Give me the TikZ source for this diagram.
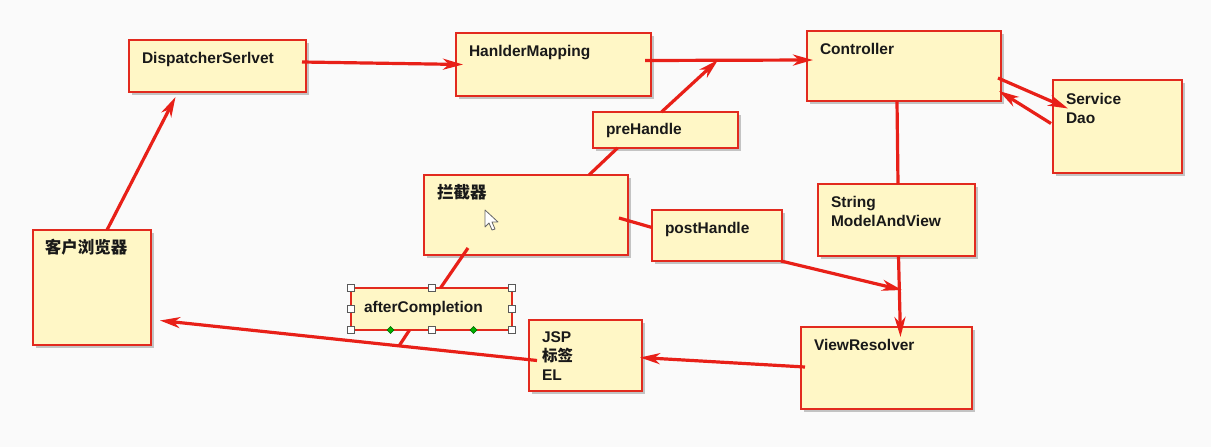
\documentclass[tikz,border=0pt]{standalone}
\usepackage{fontspec}
\setmainfont{Liberation Sans}
\newfontfamily\cjk{Noto Sans CJK SC}
\usetikzlibrary{arrows.meta,shadows,calc}
\definecolor{bg}{RGB}{250,250,250}
\definecolor{boxfill}{RGB}{255,247,198}
\definecolor{linered}{RGB}{232,32,24}
\definecolor{boxred}{RGB}{226,42,30}
\definecolor{txt}{RGB}{25,25,25}
\begin{document}
\begin{tikzpicture}[x=1pt,y=-1pt,
 plainbox/.style={draw=boxred, line width=2.4pt, fill=boxfill, rectangle, inner sep=0pt, outer sep=0pt, anchor=north west},
 box/.style={plainbox, drop shadow={shadow xshift=2.5pt, shadow yshift=-2.5pt, opacity=0.22, fill=black}},
 lbl/.style={anchor=north west, inner sep=0pt, outer sep=0pt, xshift=13pt, yshift=-12pt, align=left, font=\bfseries\fontsize{15.5}{19}\selectfont, text=txt},
 cjklbl/.style={lbl, yshift=3pt, font=\bfseries\cjk\fontsize{16.5}{19}\selectfont},
 conn/.style={draw=linered, line width=3.2pt},
 arr/.style={conn, -{Stealth[length=20pt,width=11pt,inset=6pt]}},
 handle/.style={draw=gray!70!black, fill=white, line width=0.8pt},
]
\fill[bg] (0,0) rectangle (1211,447);
\useasboundingbox (0,0) rectangle (1211,447);

% boxes
\node[box, minimum width=177pt, minimum height=52pt, label={[lbl]north west:DispatcherSerlvet}] (ds) at (129,40) {};
\node[box, minimum width=195pt, minimum height=63pt, label={[lbl]north west:HanlderMapping}] (hm) at (456,33) {};
\node[box, minimum width=194pt, minimum height=70pt, label={[lbl]north west:Controller}] (ct) at (807,31) {};
\node[box, minimum width=129pt, minimum height=93pt, label={[lbl,yshift=-1pt]north west:Service\\Dao}] (sd) at (1053,80) {};
\node[box, minimum width=145pt, minimum height=36pt, label={[lbl,yshift=1pt]north west:preHandle}] (ph) at (593,112) {};
\node[box, minimum width=204pt, minimum height=80pt, label={[cjklbl]north west:拦截器}] (lj) at (424,175) {};
\node[box, minimum width=130pt, minimum height=51pt, label={[lbl]north west:postHandle}] (po) at (652,210) {};
\node[box, minimum width=157pt, minimum height=72pt, label={[lbl]north west:String\\ModelAndView}] (sm) at (818,184) {};
\node[box, minimum width=118pt, minimum height=115pt, label={[cjklbl,xshift=-1pt]north west:客户浏览器}] (cb) at (33,230) {};
\node[plainbox, line width=2pt, minimum width=161pt, minimum height=42pt, label={[lbl,yshift=-1pt]north west:afterCompletion}] (ac) at (351,288) {};
\node[box, minimum width=113pt, minimum height=71pt, label={[lbl]north west:JSP\\{\cjk 标签}\\EL}] (jsp) at (529,320) {};
\node[box, minimum width=171pt, minimum height=82pt, label={[lbl]north west:ViewResolver}] (vr) at (801,327) {};

% junction points on connectors
\coordinate (j1) at (718,60);
\coordinate (j2) at (902,290);
\coordinate (j3) at (399,346);

% connectors
\draw[arr] ($(cb.north)+(15,0)$) -- ($(ds.south)+(-42,5)$);
\draw[arr] ($(ds.east)+(-4,-4)$) -- ($(hm.west)+(7,0)$);
\draw[arr] ($(hm.east)+(-6,-4)$) -- ($(ct.west)+(6,-6)$);
\draw[arr] ($(ph.north)+(-4,0)$) -- (j1);
\draw[conn] ($(lj.north)+(63,0)$) -- ($(ph.south)+(-48,0)$);
\draw[arr] ($(ct.east)+(-3,12)$) -- ($(sd.west)+(15,-18)$);
\draw[arr] ($(sd.west)+(-2,-3)$) -- ($(ct.east)+(-2,25)$);
\draw[conn] ($(ct.south)+(-7,0)$) -- ($(sm.north)+(1.5,0)$);
\draw[arr] ($(sm.south)+(2,0)$) -- ($(vr.north)+(14,10)$);
\draw[arr] ($(po.south east)+(-1,0)$) -- (j2);
\draw[conn] ($(lj.east)+(-9,3)$) -- ($(po.west)+(0,-8)$);
\draw[conn] ($(lj.south)+(-58,-7)$) -- ($(ac.north)+(9,0)$);
\draw[conn] ($(ac.south)+(-22,0)$) -- (j3);
\draw[arr] ($(jsp.west)+(8,5)$) -- ($(cb.east)+(9,33)$);
\draw[arr] ($(vr.west)+(4,-1)$) -- ($(jsp.east)+(-2,2)$);

% selection handles on afterCompletion
\foreach \a in {north west,north,north east,west,east,south west,south,south east}
  \filldraw[handle] ($(ac.\a)+(-3.5,-3.5)$) rectangle ++(7,7);
\foreach \dx in {-41,42}
  \filldraw[draw=green!40!black, fill=green!70!black, line width=0.6pt] ($(ac.south)+(\dx,0)$) +(0,-3.5) -- +(3.5,0) -- +(0,3.5) -- +(-3.5,0) -- cycle;

% mouse cursor
\filldraw[draw=gray!80!black, fill=white, line width=0.8pt, line join=round]
  (485,210) -- (485,227) -- (489,223) -- (492,230) -- (495,229) -- (492,222) -- (498,222) -- cycle;
\end{tikzpicture}
\end{document}
